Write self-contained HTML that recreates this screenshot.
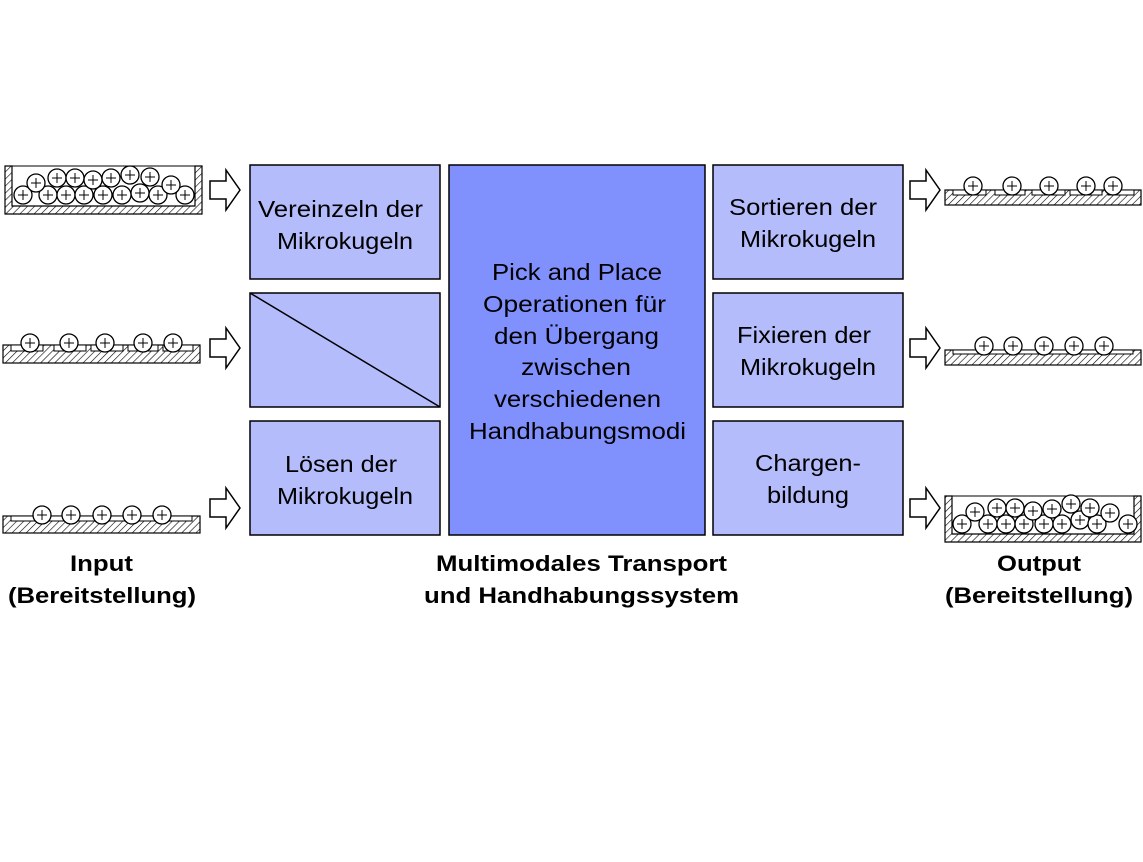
<!DOCTYPE html><html><head><meta charset="utf-8"><style>body{margin:0;background:#fff}</style></head><body>
<svg width="1143" height="857" xmlns="http://www.w3.org/2000/svg" font-family="Liberation Sans, sans-serif">
<defs>
<pattern id="h" width="5" height="5" patternUnits="userSpaceOnUse" patternTransform="rotate(45)"><rect width="5" height="5" fill="#fff"/><line x1="0" y1="0" x2="0" y2="5" stroke="#000" stroke-width="1.2"/></pattern>
<g id="b"><circle r="9" fill="#fff" stroke="#000" stroke-width="1.3"/><path d="M-5 0H5M0 -5V5" stroke="#000" stroke-width="1"/></g>
<path id="ar" d="M0 -9H16V-20L30 0L16 20V9H0Z" fill="#fff" stroke="#000" stroke-width="1.5"/>
</defs>
<rect width="1143" height="857" fill="#fff"/>
<g stroke="#000" stroke-width="1.5" fill="#b4bcfc">
<rect x="250" y="165" width="190" height="114"/><rect x="250" y="293" width="190" height="114"/><rect x="250" y="421" width="190" height="114"/>
<rect x="713" y="165" width="190" height="114"/><rect x="713" y="293" width="190" height="114"/><rect x="713" y="421" width="190" height="114"/>
<rect x="449" y="165" width="256" height="370" fill="#8090fc"/>
</g>
<line x1="250" y1="293" x2="440" y2="407" stroke="#000" stroke-width="1.5"/>
<g font-size="23" fill="#000" lengthAdjust="spacingAndGlyphs">
<text x="258" y="217" textLength="165" lengthAdjust="spacingAndGlyphs">Vereinzeln der</text><text x="277" y="249" textLength="136" lengthAdjust="spacingAndGlyphs">Mikrokugeln</text>
<text x="285" y="472" textLength="112" lengthAdjust="spacingAndGlyphs">Lösen der</text><text x="277" y="504" textLength="136" lengthAdjust="spacingAndGlyphs">Mikrokugeln</text>
<text x="729" y="215" textLength="148" lengthAdjust="spacingAndGlyphs">Sortieren der</text><text x="740" y="247" textLength="136" lengthAdjust="spacingAndGlyphs">Mikrokugeln</text>
<text x="737" y="343" textLength="134" lengthAdjust="spacingAndGlyphs">Fixieren der</text><text x="740" y="375" textLength="136" lengthAdjust="spacingAndGlyphs">Mikrokugeln</text>
<text x="755" y="471" textLength="106" lengthAdjust="spacingAndGlyphs">Chargen-</text><text x="767" y="503" textLength="82" lengthAdjust="spacingAndGlyphs">bildung</text>
<text x="492" y="280" textLength="170" lengthAdjust="spacingAndGlyphs">Pick and Place</text>
<text x="483" y="312" textLength="183" lengthAdjust="spacingAndGlyphs">Operationen für</text>
<text x="494" y="344" textLength="165" lengthAdjust="spacingAndGlyphs">den Übergang</text>
<text x="521" y="375" textLength="110" lengthAdjust="spacingAndGlyphs">zwischen</text>
<text x="494" y="407" textLength="167" lengthAdjust="spacingAndGlyphs">verschiedenen</text>
<text x="469" y="439" textLength="217" lengthAdjust="spacingAndGlyphs">Handhabungsmodi</text>
</g>
<g font-size="22" font-weight="bold">
<text x="70" y="571" textLength="63" lengthAdjust="spacingAndGlyphs">Input</text><text x="8" y="603" textLength="188" lengthAdjust="spacingAndGlyphs">(Bereitstellung)</text>
<text x="436" y="571" textLength="291" lengthAdjust="spacingAndGlyphs">Multimodales Transport</text><text x="424" y="603" textLength="315" lengthAdjust="spacingAndGlyphs">und Handhabungssystem</text>
<text x="997" y="571" textLength="84" lengthAdjust="spacingAndGlyphs">Output</text><text x="945" y="603" textLength="188" lengthAdjust="spacingAndGlyphs">(Bereitstellung)</text>
</g>
<use href="#ar" x="210" y="190"/><use href="#ar" x="210" y="348"/><use href="#ar" x="210" y="508"/>
<use href="#ar" x="910" y="190"/><use href="#ar" x="910" y="348"/><use href="#ar" x="910" y="508"/>
<path d="M5 166H12V206H195V166H202V214H5Z" fill="url(#h)" stroke="#000" stroke-width="1.2"/>
<rect x="12" y="166" width="183" height="40" fill="none" stroke="#000"/>
<g><use href="#b" x="23" y="195"/><use href="#b" x="48" y="195"/><use href="#b" x="66" y="195"/><use href="#b" x="84" y="195"/><use href="#b" x="103" y="195"/><use href="#b" x="122" y="195"/><use href="#b" x="140" y="193"/><use href="#b" x="158" y="195"/><use href="#b" x="185" y="195"/>
<use href="#b" x="36" y="183"/><use href="#b" x="57" y="178"/><use href="#b" x="75" y="178"/><use href="#b" x="93" y="180"/><use href="#b" x="111" y="178"/><use href="#b" x="130" y="175"/><use href="#b" x="150" y="177"/><use href="#b" x="171" y="185"/></g>
<rect x="3" y="345" width="197" height="18" fill="url(#h)" stroke="#000" stroke-width="1.2"/>
<g fill="#fff" stroke="#000"><rect x="11" y="345" width="32" height="6"/><rect x="54" y="345" width="32" height="6"/><rect x="91" y="345" width="32" height="6"/><rect x="128" y="345" width="30" height="6"/><rect x="163" y="345" width="30" height="6"/></g>
<use href="#b" x="30" y="343"/><use href="#b" x="69" y="343"/><use href="#b" x="105" y="343"/><use href="#b" x="143" y="343"/><use href="#b" x="173" y="343"/>
<rect x="3" y="516" width="197" height="17" fill="url(#h)" stroke="#000" stroke-width="1.2"/>
<rect x="11" y="516" width="181" height="5" fill="#fff" stroke="#000"/>
<use href="#b" x="42" y="515"/><use href="#b" x="71" y="515"/><use href="#b" x="102" y="515"/><use href="#b" x="132" y="515"/><use href="#b" x="162" y="515"/>
<rect x="945" y="190" width="196" height="15" fill="url(#h)" stroke="#000" stroke-width="1.2"/>
<g fill="#fff" stroke="#000"><rect x="953" y="190" width="33" height="5"/><rect x="995" y="190" width="30" height="5"/><rect x="1032" y="190" width="33" height="5"/><rect x="1070" y="190" width="32" height="5"/><rect x="1108" y="190" width="26" height="5"/></g>
<use href="#b" x="973" y="186"/><use href="#b" x="1012" y="186"/><use href="#b" x="1049" y="186"/><use href="#b" x="1086" y="186"/><use href="#b" x="1113" y="186"/>
<rect x="945" y="350" width="196" height="15" fill="url(#h)" stroke="#000" stroke-width="1.2"/>
<rect x="953" y="350" width="180" height="4" fill="#fff" stroke="#000"/>
<use href="#b" x="984" y="346"/><use href="#b" x="1013" y="346"/><use href="#b" x="1044" y="346"/><use href="#b" x="1074" y="346"/><use href="#b" x="1104" y="346"/>
<path d="M945 496H952V534H1134V496H1141V542H945Z" fill="url(#h)" stroke="#000" stroke-width="1.2"/>
<rect x="952" y="496" width="182" height="38" fill="none" stroke="#000"/>
<g><use href="#b" x="962" y="524"/><use href="#b" x="988" y="524"/><use href="#b" x="1006" y="524"/><use href="#b" x="1024" y="524"/><use href="#b" x="1044" y="524"/><use href="#b" x="1062" y="524"/><use href="#b" x="1080" y="520"/><use href="#b" x="1097" y="524"/><use href="#b" x="1128" y="524"/>
<use href="#b" x="975" y="512"/><use href="#b" x="997" y="508"/><use href="#b" x="1015" y="508"/><use href="#b" x="1033" y="511"/><use href="#b" x="1052" y="509"/><use href="#b" x="1071" y="504"/><use href="#b" x="1090" y="508"/><use href="#b" x="1110" y="513"/></g>
</svg>
</body></html>
